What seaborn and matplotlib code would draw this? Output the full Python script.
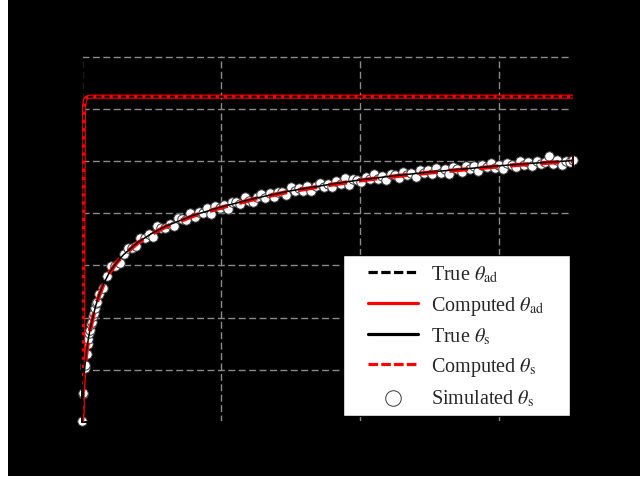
import matplotlib
matplotlib.use("Agg")
import matplotlib.pyplot as plt
from matplotlib.patches import Rectangle
import seaborn as sns

# time axis ticks and y ticks
x_ticks = [0, 1000, 2000, 3000]
y_ticks = [0.0, 0.1, 0.2, 0.3, 0.4, 0.5, 0.6, 0.7]

# adsorbed fraction (true and computed)
t_ad = [0, 5, 9, 11, 13, 16, 22, 35, 60, 3530]
true_ad = [0.0, 0.03, 0.20, 0.45, 0.57, 0.605, 0.617, 0.622, 0.6235, 0.6235]
comp_ad = [0.0, 0.03, 0.21, 0.46, 0.575, 0.607, 0.618, 0.622, 0.6235, 0.6235]

# surface fraction curve (true and computed)
t_s = [0, 5, 12, 22, 33, 45, 60, 80, 100, 125, 150, 200, 250, 300, 400, 500,
       600, 800, 1000, 1250, 1500, 1750, 2000, 2250, 2500, 2750, 3000, 3250, 3530]
true_s = [0.0, 0.045, 0.080, 0.110, 0.136, 0.158, 0.180, 0.203, 0.224, 0.245,
          0.262, 0.288, 0.306, 0.321, 0.344, 0.361, 0.375, 0.396, 0.412, 0.429,
          0.443, 0.454, 0.464, 0.472, 0.479, 0.485, 0.491, 0.496, 0.501]
comp_s = [0.0, 0.044, 0.079, 0.110, 0.135, 0.158, 0.179, 0.202, 0.223, 0.244,
          0.261, 0.287, 0.306, 0.320, 0.343, 0.360, 0.374, 0.395, 0.411, 0.428,
          0.442, 0.453, 0.463, 0.471, 0.478, 0.484, 0.490, 0.495, 0.500]

# simulated (noisy) samples
sim_t = [0, 6, 9, 20, 25, 33, 40, 46, 52, 58, 64, 70, 77, 84, 91, 98, 105,
         120, 150, 180, 210, 240, 270, 300, 330, 360, 390, 420, 450, 480, 510,
         540, 570, 600, 630, 660, 690, 720, 750, 780, 810, 840, 870, 900, 930,
         960, 990, 1020, 1050, 1080, 1110, 1140, 1170, 1200, 1230, 1260, 1290,
         1320, 1350, 1380, 1410, 1440, 1470, 1500, 1530, 1560, 1590, 1620, 1650,
         1680, 1710, 1740, 1770, 1800, 1830, 1860, 1890, 1920, 1950, 1980, 2010,
         2040, 2070, 2100, 2130, 2160, 2190, 2220, 2250, 2280, 2310, 2340, 2370,
         2400, 2430, 2460, 2490, 2520, 2550, 2580, 2610, 2640, 2670, 2700, 2730,
         2760, 2790, 2820, 2850, 2880, 2910, 2940, 2970, 3000, 3030, 3060, 3090,
         3120, 3150, 3180, 3210, 3240, 3270, 3300, 3330, 3360, 3390, 3420, 3450,
         3480, 3510, 3530]
sim_s = [0.001, 0.054, 0.056, 0.104, 0.109, 0.131, 0.150, 0.160, 0.171, 0.176,
         0.188, 0.192, 0.203, 0.208, 0.219, 0.229, 0.230,
         0.245, 0.256, 0.280, 0.299, 0.299, 0.304, 0.322, 0.333, 0.333, 0.337,
         0.353, 0.352, 0.361, 0.355, 0.375, 0.371, 0.371, 0.380, 0.375, 0.390,
         0.389, 0.388, 0.401, 0.392, 0.402, 0.400, 0.410, 0.398, 0.413, 0.410,
         0.415, 0.409, 0.422, 0.422, 0.418, 0.432, 0.424, 0.421, 0.431, 0.437,
         0.430, 0.439, 0.431, 0.440, 0.440, 0.435, 0.450, 0.443, 0.449, 0.443,
         0.453, 0.442, 0.453, 0.458, 0.451, 0.456, 0.451, 0.461, 0.456, 0.467,
         0.455, 0.465, 0.463, 0.460, 0.470, 0.465, 0.475, 0.465, 0.471, 0.463,
         0.475, 0.473, 0.468, 0.480, 0.473, 0.478, 0.470, 0.482, 0.477, 0.483,
         0.476, 0.487, 0.478, 0.484, 0.475, 0.488, 0.485, 0.480, 0.491, 0.484,
         0.490, 0.481, 0.492, 0.488, 0.497, 0.486, 0.493, 0.485, 0.497, 0.493,
         0.488, 0.500, 0.493, 0.498, 0.490, 0.500, 0.494, 0.499, 0.510, 0.494,
         0.503, 0.493, 0.501, 0.498, 0.503]

LABELS = [r"True $\theta_{\mathrm{ad}}$", r"Computed $\theta_{\mathrm{ad}}$",
          r"True $\theta_{\mathrm{s}}$", r"Computed $\theta_{\mathrm{s}}$",
          r"Simulated $\theta_{\mathrm{s}}$"]

sns.set_style("ticks")
plt.rcParams["font.family"] = ["Liberation Serif", "DejaVu Serif"]
plt.rcParams["mathtext.fontset"] = "stix"

fig = plt.figure(figsize=(6.4, 4.81), dpi=100, facecolor="white")
# black canvas with the thin white strip on the left and bottom
fig.add_artist(Rectangle((8 / 640, 4 / 481), 1, 1, transform=fig.transFigure,
                         facecolor="black", edgecolor="none", zorder=-5))
ax = fig.add_axes([0.1281, 0.1206, 0.7672, 0.7599])
ax.set_facecolor("black")

sns.scatterplot(x=sim_t, y=sim_s, s=46, color="white", edgecolor="#3a3a3a",
                linewidth=0.7, zorder=2, label=LABELS[4], ax=ax)
ax.collections[0].set_clip_on(False)
sns.lineplot(x=t_ad, y=comp_ad, color="red", lw=3, zorder=3,
             label=LABELS[1], ax=ax)
sns.lineplot(x=t_ad, y=true_ad, color="black", lw=1.4,
             linestyle=(0, (2.6, 1.6)), zorder=4, label=LABELS[0], ax=ax)
sns.lineplot(x=t_s, y=comp_s, color="red", lw=3,
             linestyle=(0, (4.5, 2.8)), zorder=3, label=LABELS[3], ax=ax)
sns.lineplot(x=t_s, y=true_s, color="black", lw=1.1, zorder=4,
             label=LABELS[2], ax=ax)

ax.set_xlim(0, 3532)
ax.set_ylim(0, 0.7005)
ax.set_xticks(x_ticks)
ax.set_yticks(y_ticks)
ax.tick_params(colors="black", labelsize=12)
ax.set_axisbelow(True)
ax.grid(True, color="#8a8a8a", linewidth=1.0, linestyle=(0, (5, 2.5)))
ax.spines["top"].set_visible(False)
for side in ["left", "right", "bottom"]:
    ax.spines[side].set_color("black")
    ax.spines[side].set_linewidth(1.4)

# legend in a white box in the lower right
box = Rectangle((0.5316, 0.016), 0.4623, 0.441, transform=ax.transAxes,
                facecolor="white", edgecolor="black", lw=1.0, zorder=6,
                clip_on=False)
ax.add_patch(box)
handles, labels = ax.get_legend_handles_labels()
lookup = dict(zip(labels, handles))
leg = ax.legend([lookup[l] for l in LABELS], LABELS, loc="center",
                bbox_to_anchor=(0.7627, 0.2353), frameon=False, fontsize=14.5,
                handlelength=2.45, handletextpad=0.65, labelspacing=0.45,
                markerscale=1.65)
leg.set_zorder(7)
leg_dashes = [(0, (2.9, 1.1)), "-", "-", (0, (3.0, 1.0))]
for line, ls in zip(leg.get_lines(), leg_dashes):
    line.set_linewidth(2.3)
    line.set_linestyle(ls)

fig.savefig("out.png", dpi=100)
